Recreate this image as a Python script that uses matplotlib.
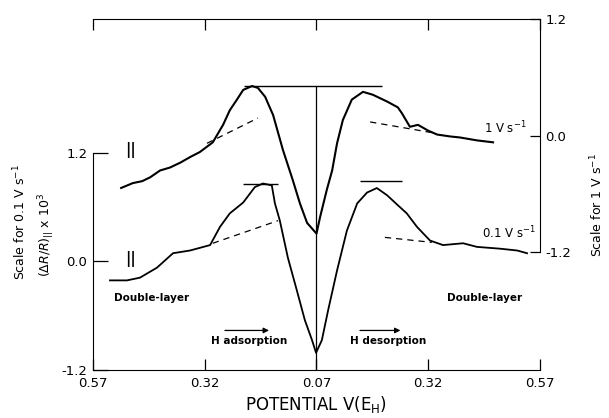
import matplotlib
matplotlib.use("Agg")
import matplotlib.pyplot as plt

# sweep coordinate: 0 -> 0.57 V, 0.5 -> 0.07 V, 1 -> back to 0.57 V
tick_pos = [0.0, 0.25, 0.5, 0.75, 1.0]
tick_lab = ["0.57", "0.32", "0.07", "0.32", "0.57"]

# 1 V/s trace (right scale)
fast_u = [0.063, 0.089, 0.110, 0.128, 0.150, 0.172, 0.195, 0.218, 0.239, 0.268,
          0.291, 0.306, 0.322, 0.336, 0.356, 0.369, 0.385, 0.403, 0.425, 0.447,
          0.463, 0.479, 0.500, 0.508, 0.523, 0.535, 0.546, 0.559, 0.579, 0.604,
          0.626, 0.658, 0.682, 0.691, 0.709, 0.727, 0.750, 0.770, 0.800, 0.821,
          0.859, 0.895]
fast_y = [-0.54, -0.49, -0.47, -0.43, -0.36, -0.33, -0.28, -0.22, -0.17, -0.07,
          0.11, 0.26, 0.37, 0.47, 0.51, 0.49, 0.40, 0.21, -0.15, -0.46,
          -0.70, -0.90, -1.01, -0.84, -0.56, -0.36, -0.08, 0.16, 0.37, 0.45,
          0.42, 0.35, 0.29, 0.23, 0.09, 0.11, 0.05, 0.01, -0.01, -0.02,
          -0.05, -0.07]
fast_base_l = ([0.255, 0.369], [-0.08, 0.18])
fast_base_r = ([0.620, 0.758], [0.14, 0.03])
fast_peak = 0.51

# 0.1 V/s trace (left scale)
slow_u = [0.038, 0.076, 0.105, 0.143, 0.179, 0.217, 0.262, 0.284, 0.306, 0.336,
          0.362, 0.380, 0.400, 0.407, 0.418, 0.436, 0.456, 0.474, 0.490, 0.499,
          0.512, 0.526, 0.546, 0.568, 0.591, 0.613, 0.635, 0.658, 0.682, 0.702,
          0.725, 0.754, 0.783, 0.828, 0.859, 0.911, 0.949, 0.971]
slow_y = [-0.21, -0.21, -0.18, -0.07, 0.09, 0.12, 0.18, 0.38, 0.53, 0.65,
          0.82, 0.86, 0.84, 0.64, 0.45, 0.04, -0.32, -0.65, -0.87, -1.01,
          -0.87, -0.54, -0.10, 0.34, 0.64, 0.76, 0.81, 0.73, 0.62, 0.53,
          0.38, 0.23, 0.18, 0.20, 0.16, 0.14, 0.12, 0.09]
slow_base_l = ([0.268, 0.414], [0.20, 0.45])
slow_base_r = ([0.653, 0.758], [0.265, 0.21])
slow_peak_l = ([0.336, 0.414], 0.85)
slow_peak_r = ([0.597, 0.691], 0.885)

fig = plt.figure(figsize=(6.09, 4.18), dpi=100)
ax = fig.add_axes([0.1527, 0.1148, 0.734, 0.8397])
ax2 = ax.twinx()

ax.set_xlim(0, 1)
ax.set_ylim(-1.2, 2.677)
ax2.set_ylim(-2.415, 1.2)

ax.plot(slow_u, slow_y, color="black", lw=1.3)
ax.plot(*slow_base_l, color="black", lw=0.9, ls=(0, (5, 4)))
ax.plot(*slow_base_r, color="black", lw=0.9, ls=(0, (5, 4)))
ax.hlines(slow_peak_l[1], *slow_peak_l[0], color="black", lw=1.0)
ax.hlines(slow_peak_r[1], *slow_peak_r[0], color="black", lw=1.0)

ax2.plot(fast_u, fast_y, color="black", lw=1.5)
ax2.plot(*fast_base_l, color="black", lw=0.9, ls=(0, (5, 4)))
ax2.plot(*fast_base_r, color="black", lw=0.9, ls=(0, (5, 4)))
ax2.hlines(fast_peak, 0.338, 0.647, color="black", lw=1.0)
# vertical marker at 0.07 V, from the top bar to the axis
top_left = ax.transData.inverted().transform(ax2.transData.transform((0.5, fast_peak)))[1]
ax.vlines(0.5, -1.2, top_left, color="black", lw=0.9)

# spines and ticks
for a in (ax, ax2):
    a.spines["right"].set_visible(False)
    a.spines["left"].set_visible(False)
ax2.spines["top"].set_visible(False)
ax2.spines["bottom"].set_visible(False)
ax.spines["left"].set_visible(True)
ax.spines["left"].set_bounds(-1.2, 1.2)
ax2.spines["right"].set_visible(True)
ax2.spines["right"].set_bounds(-1.2, 1.2)

ax.set_xticks(tick_pos)
ax.set_xticklabels(tick_lab, fontsize=9.5)
ax.tick_params(axis="x", direction="in", top=True, length=8, width=0.9, pad=5)
ax.set_yticks([-1.2, 0.0, 1.2])
ax.set_yticklabels(["-1.2", "0.0", "1.2"], fontsize=9.5)
ax.tick_params(axis="y", direction="in", length=11, width=0.9, pad=4)
ax2.set_yticks([-1.2, 0.0, 1.2])
ax2.set_yticklabels(["-1.2", "0.0", "1.2"], fontsize=9.5)
ax2.tick_params(axis="y", direction="in", length=7, width=0.9, pad=4)

ax.set_xlabel("POTENTIAL V(E$_{\\mathrm{H}}$)", fontsize=12, labelpad=3)

fig.text(0.033, 0.469, "Scale for 0.1 V s$^{-1}$", rotation=90,
         ha="center", va="center", fontsize=9)
fig.text(0.077, 0.438, "$(\\Delta R/R)_{||}$ x 10$^{3}$", rotation=90,
         ha="center", va="center", fontsize=9)
fig.text(0.980, 0.51, "Scale for 1 V s$^{-1}$", rotation=90,
         ha="center", va="center", fontsize=9)

# annotations
ax.text(0.922, 1.47, "1 V s$^{-1}$", ha="center", va="center", fontsize=8.5)
ax.text(0.931, 0.31, "0.1 V s$^{-1}$", ha="center", va="center", fontsize=8.5)
ax.text(0.130, -0.41, "Double-layer", ha="center", va="center", fontsize=7.5,
        fontweight="bold")
ax.text(0.875, -0.41, "Double-layer", ha="center", va="center", fontsize=7.5,
        fontweight="bold")
ax.text(0.349, -0.885, "H adsorption", ha="center", va="center", fontsize=7.5,
        fontweight="bold")
ax.text(0.66, -0.885, "H desorption", ha="center", va="center", fontsize=7.5,
        fontweight="bold")
for x0, x1 in ((0.289, 0.400), (0.591, 0.694)):
    ax.annotate("", xy=(x1, -0.763), xytext=(x0, -0.763),
                arrowprops=dict(arrowstyle="-|>", color="black", lw=0.9,
                                mutation_scale=8))
ax.text(0.083, 1.23, "||", ha="center", va="center", fontsize=10.5,
        fontweight="bold")
ax.text(0.085, 0.03, "||", ha="center", va="center", fontsize=10.5,
        fontweight="bold")

fig.savefig("out.png", dpi=100)
